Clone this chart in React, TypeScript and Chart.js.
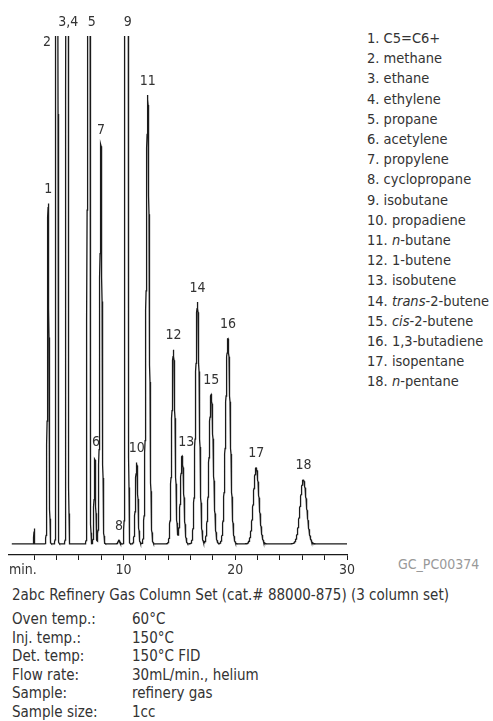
import React, { useEffect, useRef } from 'react';
import { Chart, registerables } from 'chart.js';

Chart.register(...registerables);

// ---- data ----
const peakLabels = ['', '1', '2', '3,4', '5', '6', '7', '8', '9', '10', '11', '12', '13', '14', '15', '16', '17', '18'];
const retentionTimes = [2.0, 3.26, 4.04, 4.96, 6.88, 7.44, 7.98, 9.6, 10.28, 11.18, 12.17, 14.47, 15.25, 16.62, 17.85, 19.35, 21.88, 26.1];
// response (arbitrary units, 100 = top of the plot; larger values run off-scale)
const peakHeights = [3, 67, 1000, 1000, 1000, 16.7, 78.7, 0.7, 1000, 16, 88.4, 38.2, 17.3, 47.6, 29.5, 40.4, 15, 12.6];
// peak standard deviation in minutes
const peakWidths = [0.015, 0.07, 0.045, 0.05, 0.06, 0.07, 0.1, 0.08, 0.07, 0.11, 0.14, 0.15, 0.15, 0.17, 0.19, 0.21, 0.25, 0.29];

const runStart = 0;
const runEnd = 30;
const sampleStep = 0.01;
const axisMin = -0.25;
const axisMax = 30;
const yMin = -2.2;
const yMax = 100;
const tickValues = [2, 4, 6, 8, 10, 12, 14, 16, 18, 20, 22, 24, 26, 28, 30];

const compoundNames = [
  'C5=C6+', 'methane', 'ethane', 'ethylene', 'propane', 'acetylene', 'propylene',
  'cyclopropane', 'isobutane', 'propadiene', '_n_-butane', '1-butene', 'isobutene',
  '_trans_-2-butene', '_cis_-2-butene', '1,3-butadiene', 'isopentane', '_n_-pentane',
];

const columnTitle = '2abc Refinery Gas Column Set (cat.# 88000-875) (3 column set)';
const conditionLabels = ['Oven temp.:', 'Inj. temp.:', 'Det. temp:', 'Flow rate:', 'Sample:', 'Sample size:'];
const conditionValues = ['60°C', '150°C', '150°C FID', '30mL/min., helium', 'refinery gas', '1cc'];
const figureId = 'GC_PC00374';

const FONT = '"Liberation Sans Narrow", "DejaVu Sans Condensed", "Arial Narrow", sans-serif';
const TEXT = '#333';

function buildTrace() {
  const pts: { x: number; y: number }[] = [];
  const n = Math.round((runEnd - runStart) / sampleStep);
  for (let i = 0; i <= n; i++) {
    const t = runStart + i * sampleStep;
    let y = 0;
    for (let k = 0; k < retentionTimes.length; k++) {
      const d = (t - retentionTimes[k]) / peakWidths[k];
      y += peakHeights[k] * Math.exp(-0.5 * d * d);
    }
    pts.push({ x: +t.toFixed(3), y });
  }
  return pts;
}

function renderName(name: string) {
  const parts = name.split('_');
  return parts.map((p, i) => (i % 2 === 1 ? <i key={i}>{p}</i> : <span key={i}>{p}</span>));
}

const peakLabelPlugin = {
  id: 'peakLabels',
  afterDatasetsDraw(chart: any) {
    const { ctx, chartArea, scales } = chart;
    const xs = scales.x;
    const ys = scales.y;
    ctx.save();
    ctx.font = `14px ${FONT}`;
    ctx.fillStyle = TEXT;
    ctx.textAlign = 'center';
    ctx.textBaseline = 'middle';
    // small placement tweaks so labels sit like the original
    const nudge: Record<string, [number, number]> = {
      '2': [-10, 20], '5': [3, 0], '6': [1, -3], '13': [4, 0], '9': [1, 0], '3,4': [1, 0],
    };
    peakLabels.forEach((lab, k) => {
      if (!lab) return;
      const px = xs.getPixelForValue(retentionTimes[k]);
      const top = peakHeights[k] >= yMax ? chartArea.top : ys.getPixelForValue(peakHeights[k]);
      const [dx, dy] = nudge[lab] || [0, 0];
      ctx.fillText(lab, px + dx, top - 14 + dy);
    });
    // "min." under the axis start
    ctx.textAlign = 'left';
    ctx.fillText('min.', chartArea.left, chartArea.bottom + 15);
    ctx.restore();
  },
};

export default function App() {
  const canvasRef = useRef<HTMLCanvasElement | null>(null);

  useEffect(() => {
    if (!canvasRef.current) return;
    const chart = new Chart(canvasRef.current, {
      type: 'line',
      data: {
        datasets: [
          {
            data: buildTrace(),
            borderColor: '#1a1a1a',
            borderWidth: 1.3,
            pointRadius: 0,
            tension: 0,
            fill: false,
          },
        ],
      },
      options: {
        animation: false,
        responsive: false,
        maintainAspectRatio: false,
        layout: { padding: { left: 9, right: 15, top: 36, bottom: 0 } },
        plugins: { legend: { display: false }, tooltip: { enabled: false }, title: { display: false } },
        scales: {
          x: {
            type: 'linear',
            min: axisMin,
            max: axisMax,
            afterBuildTicks: (s: any) => {
              s.ticks = tickValues.map((v) => ({ value: v }));
            },
            afterFit: (s: any) => {
              s.height = 25;
            },
            grid: {
              display: true,
              drawOnChartArea: false,
              drawTicks: true,
              tickLength: 5,
              tickWidth: 1,
              tickColor: '#1a1a1a',
            },
            border: { display: true, color: '#1a1a1a', width: 1.3 },
            ticks: {
              autoSkip: false,
              maxRotation: 0,
              padding: 2,
              color: TEXT,
              font: { family: FONT, size: 14 },
              callback: (v: any) => (Number(v) % 10 === 0 ? String(v) : ''),
            },
          },
          y: { display: false, min: yMin, max: yMax },
        },
      },
      plugins: [peakLabelPlugin],
    } as any);
    return () => chart.destroy();
  }, []);

  return (
    <div
      style={{
        position: 'absolute',
        left: 0,
        top: 0,
        width: 493,
        height: 721,
        overflow: 'hidden',
        background: '#fff',
        fontFamily: FONT,
        color: TEXT,
      }}
    >
      <canvas ref={canvasRef} width={362} height={580} style={{ position: 'absolute', left: 0, top: 0 }} />
      <div style={{ position: 'absolute', left: 367, top: 28, fontSize: 14.5, lineHeight: '20.2px', whiteSpace: 'nowrap' }}>
        {compoundNames.map((n, i) => (
          <div key={i}>
            {i + 1}. {renderName(n)}
          </div>
        ))}
      </div>
      <div style={{ position: 'absolute', left: 398, top: 556, fontSize: 14, color: '#999', whiteSpace: 'nowrap' }}>
        {figureId}
      </div>
      <div style={{ position: 'absolute', left: 12, top: 586, fontSize: 15, lineHeight: '18px', whiteSpace: 'nowrap' }}>
        {columnTitle}
      </div>
      <div style={{ position: 'absolute', left: 12, top: 610, fontSize: 15, lineHeight: '18.5px', whiteSpace: 'nowrap' }}>
        {conditionLabels.map((l, i) => (
          <div key={i} style={{ display: 'flex' }}>
            <span style={{ width: 120, display: 'inline-block' }}>{l}</span>
            <span>{conditionValues[i]}</span>
          </div>
        ))}
      </div>
    </div>
  );
}
